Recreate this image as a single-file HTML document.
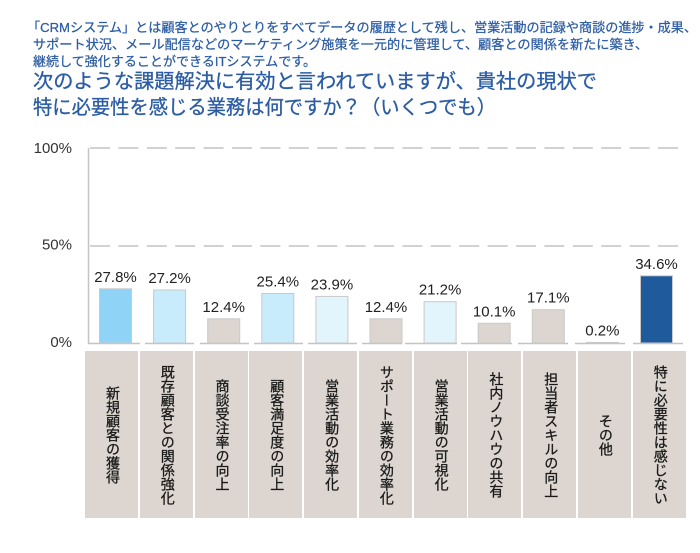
<!DOCTYPE html>
<html><head><meta charset="utf-8">
<style>
html,body{margin:0;padding:0;background:#fff;}
#wrap{position:relative;width:700px;height:553px;overflow:hidden;background:#fff;}
svg{position:absolute;left:0;top:0;}
.lb{position:absolute;top:351px;width:53px;height:167px;background:#ddd6d0;display:flex;align-items:center;justify-content:center;}
.lb span{writing-mode:vertical-rl;font-family:"Liberation Sans","Noto Sans CJK JP",sans-serif;font-size:14px;line-height:15px;color:#1a1a1a;margin-left:2px;-webkit-text-stroke:0.3px #1a1a1a;}
</style></head>
<body><div id="wrap">
<svg width="700" height="553" viewBox="0 0 700 553" xmlns="http://www.w3.org/2000/svg">
<g font-family="'Liberation Sans','Noto Sans CJK JP',sans-serif" fill="#2b5ca4" stroke="#2b5ca4">
<text x="27" y="32" font-size="13" stroke-width="0.25" textLength="670" lengthAdjust="spacingAndGlyphs">「CRMシステム」とは顧客とのやりとりをすべてデータの履歴として残し、営業活動の記録や商談の進捗・成果、</text>
<text x="33" y="49" font-size="13" stroke-width="0.25" textLength="615" lengthAdjust="spacingAndGlyphs">サポート状況、メール配信などのマーケティング施策を一元的に管理して、顧客との関係を新たに築き、</text>
<text x="33" y="66" font-size="13" stroke-width="0.25" textLength="283" lengthAdjust="spacingAndGlyphs">継続して強化することができるITシステムです。</text>
<text x="33" y="88" font-size="20" stroke-width="0.3" textLength="564" lengthAdjust="spacingAndGlyphs">次のような課題解決に有効と言われていますが、貴社の現状で</text>
<text x="33" y="114" font-size="20" stroke-width="0.3" textLength="463" lengthAdjust="spacingAndGlyphs">特に必要性を感じる業務は何ですか？（いくつでも）</text>
</g>
<!-- gridlines -->
<line x1="89" y1="148" x2="684" y2="148" stroke="#c4c4c4" stroke-width="1.5" stroke-dasharray="20 8.4" stroke-dashoffset="-1"/>
<line x1="89" y1="246" x2="684" y2="246" stroke="#c4c4c4" stroke-width="1.5" stroke-dasharray="20 8.4" stroke-dashoffset="-1"/>
<line x1="88.5" y1="148" x2="88.5" y2="344" stroke="#c4c4c4" stroke-width="1.5"/>
<!-- y labels -->
<g font-family="'Liberation Sans',sans-serif" font-size="15" fill="#333" text-anchor="end">
<text x="72" y="153">100%</text>
<text x="72" y="249.5">50%</text>
<text x="72" y="347">0%</text>
</g>
<!-- baseline segments -->
<g stroke="#c4c4c4" stroke-width="1.5">
<line x1="88" y1="343.5" x2="140" y2="343.5"/>
<line x1="145" y1="343.5" x2="194" y2="343.5"/>
<line x1="200" y1="343.5" x2="249" y2="343.5"/>
<line x1="254" y1="343.5" x2="303" y2="343.5"/>
<line x1="308" y1="343.5" x2="357" y2="343.5"/>
<line x1="362" y1="343.5" x2="402" y2="343.5"/>
<line x1="405" y1="343.5" x2="457" y2="343.5"/>
<line x1="461" y1="343.5" x2="512" y2="343.5"/>
<line x1="518" y1="343.5" x2="568" y2="343.5"/>
<line x1="575" y1="343.5" x2="625" y2="343.5"/>
<line x1="633" y1="343.5" x2="683" y2="343.5"/>
</g>
<!-- bars -->
<g stroke="#c9c9c9" stroke-width="1">
<rect x="99.5" y="288.8" width="32" height="54.2" fill="#8fd3f6"/>
<rect x="153.6" y="290.0" width="32" height="53.0" fill="#c8ecfb"/>
<rect x="207.7" y="318.8" width="32" height="24.2" fill="#ddd6d0"/>
<rect x="261.8" y="293.5" width="32" height="49.5" fill="#c8ecfb"/>
<rect x="315.9" y="296.4" width="32" height="46.6" fill="#e2f4fc"/>
<rect x="370.0" y="318.8" width="32" height="24.2" fill="#ddd6d0"/>
<rect x="424.1" y="301.7" width="32" height="41.3" fill="#e2f4fc"/>
<rect x="478.2" y="323.3" width="32" height="19.7" fill="#ddd6d0"/>
<rect x="532.3" y="309.7" width="32" height="33.3" fill="#ddd6d0"/>
<rect x="586.4" y="342.4" width="32" height="0.6" fill="#ddd6d0"/>
<rect x="640.5" y="275.8" width="32" height="67.2" fill="#1f5a9c"/>
</g>
<!-- value labels -->
<g font-family="'Liberation Sans',sans-serif" font-size="15" fill="#222" text-anchor="middle">
<text x="115.5" y="282">27.8%</text>
<text x="169.6" y="283">27.2%</text>
<text x="223.7" y="312">12.4%</text>
<text x="277.8" y="286.5">25.4%</text>
<text x="331.9" y="289.5">23.9%</text>
<text x="386.0" y="312">12.4%</text>
<text x="440.1" y="294.5">21.2%</text>
<text x="494.2" y="316.5">10.1%</text>
<text x="548.3" y="302.5">17.1%</text>
<text x="602.4" y="335.5">0.2%</text>
<text x="656.5" y="269">34.6%</text>
</g>
</svg>
<div class="lb" style="left:85px"><span>新規顧客の獲得</span></div>
<div class="lb" style="left:139.8px"><span>既存顧客との関係強化</span></div>
<div class="lb" style="left:194.5px"><span>商談受注率の向上</span></div>
<div class="lb" style="left:249.3px"><span>顧客満足度の向上</span></div>
<div class="lb" style="left:304.1px"><span>営業活動の効率化</span></div>
<div class="lb" style="left:358.9px"><span>サポート業務の効率化</span></div>
<div class="lb" style="left:413.6px"><span>営業活動の可視化</span></div>
<div class="lb" style="left:468.4px"><span>社内ノウハウの共有</span></div>
<div class="lb" style="left:523.2px"><span>担当者スキルの向上</span></div>
<div class="lb" style="left:577.9px"><span>その他</span></div>
<div class="lb" style="left:632.7px"><span>特に必要性は感じない</span></div>
</div></body></html>
